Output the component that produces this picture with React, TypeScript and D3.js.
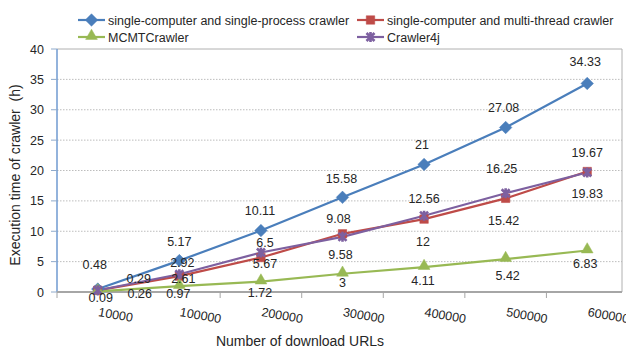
import React from "react";
import * as d3 from "d3";

const categories = ["10000", "100000", "200000", "300000", "400000", "500000", "600000"];
const singleProcess = [0.48, 5.17, 10.11, 15.58, 21, 27.08, 34.33];
const multiThread = [0.26, 2.61, 5.67, 9.58, 12, 15.42, 19.83];
const mcmtCrawler = [0.09, 0.97, 1.72, 3, 4.11, 5.42, 6.83];
const crawler4j = [0.29, 2.92, 6.5, 9.08, 12.56, 16.25, 19.67];
const yTicks = [0, 5, 10, 15, 20, 25, 30, 35, 40];

// label nudges (center offset from marker, px)
const singleProcessLabelDx = [-3, 0, -1, -1, -2, -2, -2];
const singleProcessLabelDy = [-25, -19.5, -20.5, -19, -19.5, -19.5, -21.5];
const multiThreadLabelDx = [42, 4, 4, -2, -1, -2, 0];
const multiThreadLabelDy = [3, 2.5, 5.5, 21, 22, 22, 21.5];
const mcmtLabelDx = [3, -1, -1, 0, -1, 2, -2];
const mcmtLabelDy = [6.5, 7, 10.5, 9, 13, 16, 12.5];
const crawler4jLabelDx = [41, 3, 4, -4, 0, -4, 0];
const crawler4jLabelDy = [-12, -11.5, -10.5, -18, -17, -25, -20.5];

const W = 626;
const H = 350;
const plotLeft = 57;
const plotTop = 49;
const plotBottom = 292;
const plotRight = 622;
const FONT = "'Liberation Sans', Arial, sans-serif";
const TEXT = "#262626";

type Series = {
  name: string;
  values: number[];
  color: string;
  marker: "diamond" | "square" | "triangle" | "star";
  dx: number[];
  dy: number[];
};

const series: Series[] = [
  { name: "single-computer and single-process crawler", values: singleProcess, color: "#4A7EBB", marker: "diamond", dx: singleProcessLabelDx, dy: singleProcessLabelDy },
  { name: "single-computer and multi-thread crawler", values: multiThread, color: "#BE4B48", marker: "square", dx: multiThreadLabelDx, dy: multiThreadLabelDy },
  { name: "MCMTCrawler", values: mcmtCrawler, color: "#98B954", marker: "triangle", dx: mcmtLabelDx, dy: mcmtLabelDy },
  { name: "Crawler4j", values: crawler4j, color: "#7D60A0", marker: "star", dx: crawler4jLabelDx, dy: crawler4jLabelDy },
];

function Marker({ kind, x, y, color }: { kind: Series["marker"]; x: number; y: number; color: string }) {
  if (kind === "star") {
    const r = 4;
    const p = `M${-r},${-r}L${r},${r}M${-r},${r}L${r},${-r}M0,${-r - 1}L0,${r + 1}`;
    return <path d={p} transform={`translate(${x},${y})`} stroke={color} strokeWidth={2.6} fill="none" />;
  }
  let d: string;
  if (kind === "diamond") d = d3.symbol().type(d3.symbolDiamond2).size(100)() as string;
  else if (kind === "square") d = d3.symbol().type(d3.symbolSquare).size(72)() as string;
  else d = d3.symbol().type(d3.symbolTriangle).size(60)() as string;
  return <path d={d} transform={`translate(${x},${y - (kind === "triangle" ? 1 : 0)})`} fill={color} stroke={color} strokeWidth={0.5} />;
}

export default function App() {
  const x = d3.scaleBand<string>().domain(categories).range([plotLeft, 628]);
  const y = d3.scaleLinear().domain([0, 40]).range([plotBottom, plotTop]);
  const cx = (c: string) => (x(c) as number) + x.bandwidth() / 2;
  const line = d3
    .line<number>()
    .x((_, i) => cx(categories[i]))
    .y((v) => y(v));

  const legendPos = [
    { lx: 78, ly: 20 },
    { lx: 357, ly: 20 },
    { lx: 78, ly: 37 },
    { lx: 357, ly: 37 },
  ];

  return (
    <svg width={W} height={H} style={{ position: "absolute", left: 0, top: 0, background: "#fff" }} fontFamily={FONT}>
      <rect x={0} y={0} width={W} height={H} fill="#fff" />
      {yTicks.filter((t) => t > 0 && t < 40).map((t) => (
        <line key={t} x1={plotLeft} x2={plotRight} y1={y(t)} y2={y(t)} stroke="#BDBDBD" strokeWidth={1} strokeDasharray="1.5,1.5" />
      ))}
      <line x1={plotLeft} x2={plotRight} y1={y(40)} y2={y(40)} stroke="#B0B0B0" strokeWidth={1} />
      <line x1={plotRight} x2={plotRight} y1={y(40)} y2={plotBottom} stroke="#B0B0B0" strokeWidth={1} />
      <line x1={plotLeft} x2={plotLeft} y1={y(40)} y2={plotBottom} stroke="#6F9AD0" strokeWidth={1.5} />
      {yTicks.map((t) => (
        <g key={t}>
          <line x1={plotLeft - 6} x2={plotLeft} y1={y(t)} y2={y(t)} stroke="#8FAACB" strokeWidth={1} />
          <text x={44} y={y(t)} dy="0.36em" textAnchor="end" fontSize={12.5} fill={TEXT}>
            {t}
          </text>
        </g>
      ))}
      <line x1={plotLeft} x2={plotRight} y1={plotBottom} y2={plotBottom} stroke="#A6A6A6" strokeWidth={2} />
      {categories.map((c) => (
        <line key={c} x1={x(c) as number} x2={x(c) as number} y1={plotBottom} y2={plotBottom + 6} stroke="#A6A6A6" strokeWidth={1} />
      ))}
      {categories.map((c) => (
        <text key={c} transform={`translate(${cx(c)},${316}) rotate(10)`} fontSize={12.5} fill={TEXT}>
          {c}
        </text>
      ))}
      {series.map((s) => (
        <path key={s.name} d={line(s.values) as string} fill="none" stroke={s.color} strokeWidth={2.2} />
      ))}
      {series.map((s) => (
        <g key={s.name + "m"}>
          {s.values.map((v, i) => (
            <Marker key={i} kind={s.marker} x={cx(categories[i])} y={y(v)} color={s.color} />
          ))}
        </g>
      ))}
      {series.map((s) => (
        <g key={s.name + "l"}>
          {s.values.map((v, i) => (
            <text key={i} x={cx(categories[i]) + s.dx[i]} y={y(v) + s.dy[i]} dy="0.36em" textAnchor="middle" fontSize={12.5} fill={TEXT}>
              {String(v)}
            </text>
          ))}
        </g>
      ))}
      <text x={300} y={346} textAnchor="middle" fontSize={14} fill={TEXT}>
        Number of download URLs
      </text>
      <text transform={`translate(19.5,175) rotate(-90)`} textAnchor="middle" fontSize={14} fill={TEXT} style={{ whiteSpace: "pre" }}>
        {"Execution time of crawler  (h)"}
      </text>
      {series.map((s, i) => {
        const { lx, ly } = legendPos[i];
        return (
          <g key={s.name + "leg"}>
            <line x1={lx} x2={lx + 27} y1={ly} y2={ly} stroke={s.color} strokeWidth={2.2} />
            <Marker kind={s.marker} x={lx + 13.5} y={ly} color={s.color} />
            <text x={lx + 30} y={ly} dy="0.36em" fontSize={12.5} fill={TEXT}>
              {s.name}
            </text>
          </g>
        );
      })}
    </svg>
  );
}
